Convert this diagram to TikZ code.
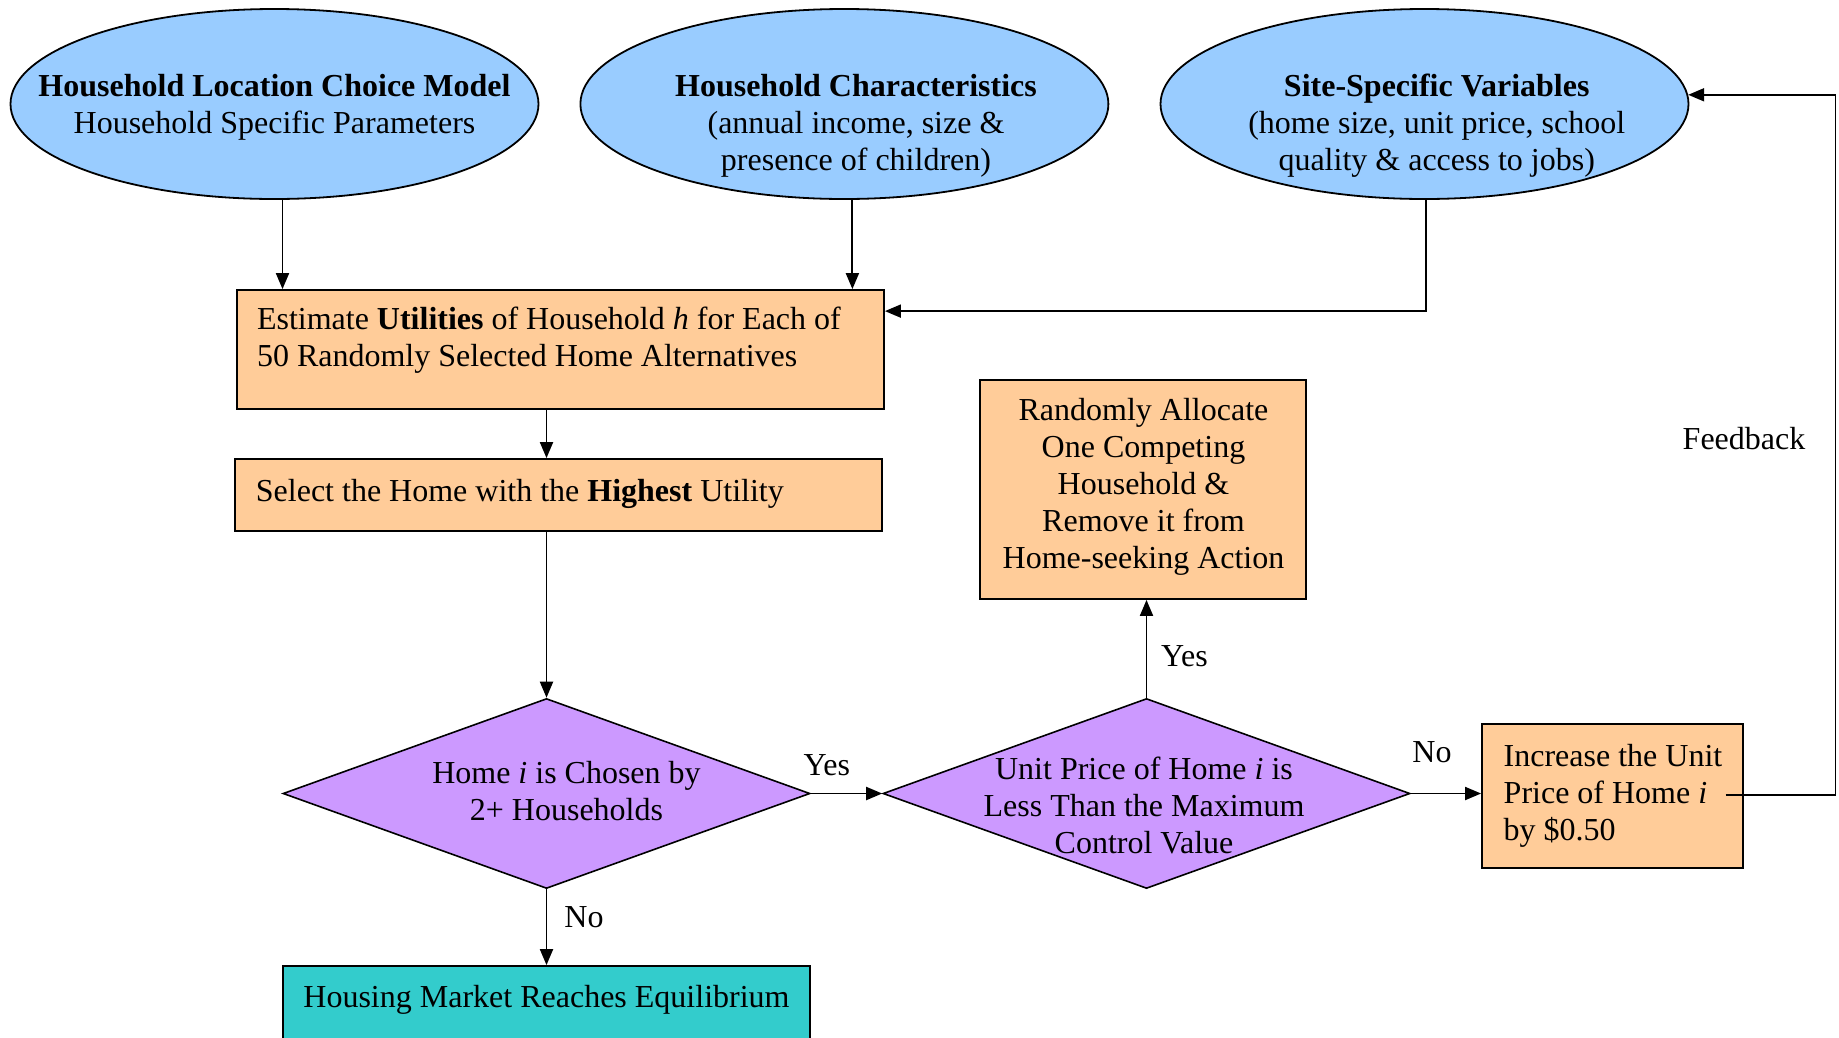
\documentclass[tikz,border=0pt]{standalone}
\usepackage{fontspec}
\setmainfont{Liberation Serif}
\usetikzlibrary{shapes.geometric,arrows.meta}
\definecolor{eblue}{RGB}{153,204,255}
\definecolor{orng}{RGB}{255,204,153}
\definecolor{purp}{RGB}{204,153,255}
\definecolor{tealx}{RGB}{51,204,204}
\tikzset{
  ell/.style={ellipse, draw, line width=1.8pt, fill=eblue, minimum width=528pt, minimum height=190pt, inner sep=0pt},
  obox/.style={rectangle, draw, line width=1.8pt, fill=orng, inner sep=0pt},
  dmd/.style={diamond, draw, line width=1.6pt, fill=purp, inner sep=0pt, minimum width=527pt, minimum height=190pt},
  arr/.style={-{Triangle[length=16pt,width=13pt]}, line width=1.9pt},
  txt/.style={font=\fontsize{32}{37}\selectfont, inner sep=0pt, align=center},
  txl/.style={font=\fontsize{32}{37}\selectfont, inner sep=0pt, align=left, anchor=west},
}
\begin{document}
\begin{tikzpicture}[x=1pt,y=-1pt]
\useasboundingbox (0,0) rectangle (1839,1037);
\clip (0,0) rectangle (1839,1037);
\fill[white] (0,0) rectangle (1839,1037);

% shapes
\node[ell] (e1) at (274.5,104) {};
\node[ell] (e2) at (844.4,104) {};
\node[ell] (e3) at (1424.5,104) {};
\node[obox, minimum width=647pt, minimum height=119pt] (est) at (560.5,349.5) {};
\node[obox, minimum width=647pt, minimum height=72pt] (sel) at (558.5,495) {};
\node[dmd] (d1) at (546.5,793.5) {};
\node[dmd] (d2) at (1146.5,793.5) {};
\node[obox, minimum width=326pt, minimum height=219pt] (rnd) at (1143,489.5) {};
\node[obox, minimum width=261pt, minimum height=144pt] (inc) at (1612.5,796) {};
\node[obox, fill=tealx, minimum width=527pt, minimum height=110pt] (eq) at (546.5,1021) {};

% texts
\node[txt] (t1) at (274.5,107.5) {\textbf{Household Location Choice Model}\\Household Specific Parameters};
\node[txt] (t2) at (856,125.5) {\textbf{Household Characteristics}\\(annual income, size \&\\presence of children)};
\node[txt] (t3) at (1436.7,125.5) {\textbf{Site-Specific Variables}\\(home size, unit price, school\\quality \& access to jobs)};
\node[txl] (test) at (256.8,340.5) {Estimate \textbf{Utilities} of Household \textit{h} for Each of\\50 Randomly Selected Home Alternatives};
\node[txl] (tsel) at (255.7,493.5) {Select the Home with the \textbf{Highest} Utility};
\node[txt] (td1) at (566.5,791.5) {Home \textit{i} is Chosen by\\2+ Households};
\node[txt] (td2) at (1144,805) {Unit Price of Home \textit{i} is\\Less Than the Maximum\\Control Value};
\node[txt] (trnd) at (1143.5,487) {Randomly Allocate\\One Competing\\Household \&\\Remove it from\\Home-seeking Action};
\node[txl] (tinc) at (1503.5,795.5) {Increase the Unit\\Price of Home \textit{i}\\by \$0.50};
\node[txt] (teq) at (546.5,1000) {Housing Market Reaches Equilibrium};

% connector labels
\node[txt] (lyes1) at (826.8,765) {Yes};
\node[txt] (lno1) at (584,917.5) {No};
\node[txt] (lyes2) at (1184.5,656) {Yes};
\node[txt] (lno2) at (1432,752.5) {No};
\node[txt] (lfb) at (1744,439) {Feedback};

% connectors
\draw[arr] ([xshift=8pt]e1.south) -- ([xshift=8pt]e1.south |- est.north);
\draw[arr] ([xshift=8pt]e2.south) -- ([xshift=8pt]e2.south |- est.north);
\draw[arr] ([xshift=1.5pt]e3.south) |- ([yshift=-22pt]est.north east);
\draw[arr] (est.south -| d1.north) -- (sel.north -| d1.north);
\draw[arr] (sel.south -| d1.north) -- (d1.north);
\draw[arr] (d1.south) -- (eq.north -| d1.south);
\draw[arr] (d1.east) -- (d2.west);
\draw[arr] (d2.north) -- (d2.north |- rnd.south);
\draw[arr] (d2.east) -- (d2.east -| inc.west);
\coordinate (fb) at (1725.7,795);
\draw[arr] (fb) -- (1835.5,795) |- (e3.2.5);
\end{tikzpicture}
\end{document}
